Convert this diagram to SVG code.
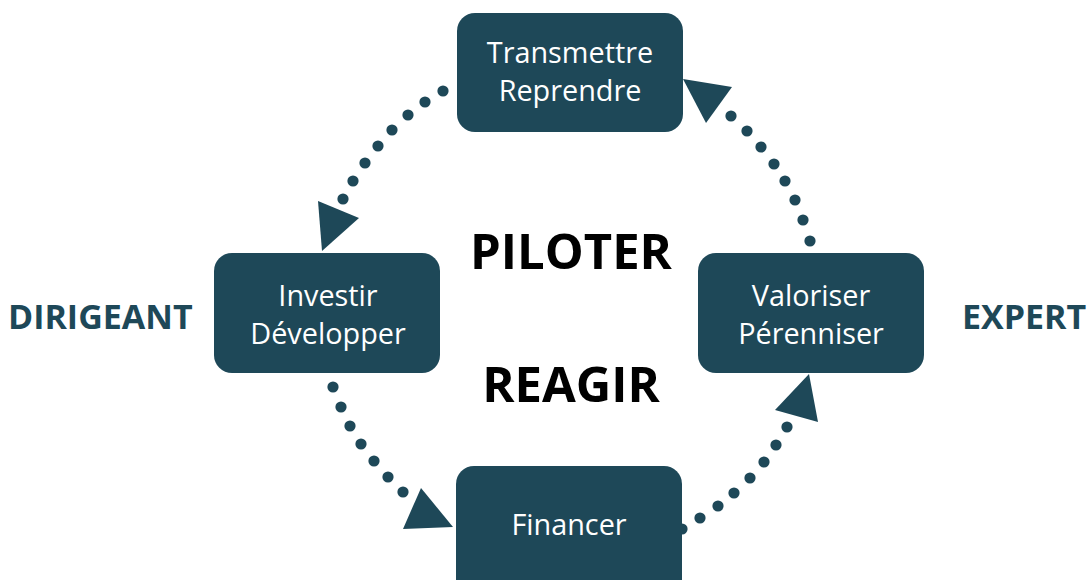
<svg xmlns="http://www.w3.org/2000/svg" width="1087" height="580" viewBox="0 0 1087 580">
<style>
.box{fill:#1e4858}
.nt{font-family:"Open Sans","Liberation Sans",sans-serif;font-size:28.8px;fill:#ffffff;text-anchor:middle}
.big{font-family:"Open Sans","Liberation Sans",sans-serif;font-weight:bold;font-size:49px;fill:#000000;text-anchor:middle}
.side{font-family:"Open Sans","Liberation Sans",sans-serif;font-weight:bold;font-size:34px;fill:#1e4858}
.dot{fill:#1e4858}
</style>
<rect width="1087" height="580" fill="#ffffff"/>
<g id="connectors" class="dot">
<g id="arc-top-left">
<circle cx="443" cy="91" r="5.6"/><circle cx="425" cy="102" r="5.6"/><circle cx="408" cy="115" r="5.6"/><circle cx="392" cy="130" r="5.6"/><circle cx="378" cy="146" r="5.6"/><circle cx="365" cy="163" r="5.6"/><circle cx="353" cy="181" r="5.6"/><circle cx="343" cy="199" r="5.6"/>
<polygon points="318,201 359,218 322,251"/>
</g>
<g id="arc-top-right">
<circle cx="731" cy="116" r="5.6"/><circle cx="747" cy="131" r="5.6"/><circle cx="761" cy="147" r="5.6"/><circle cx="774" cy="164" r="5.6"/><circle cx="785" cy="181" r="5.6"/><circle cx="795" cy="200" r="5.6"/><circle cx="803" cy="220" r="5.6"/><circle cx="810" cy="241" r="5.6"/>
<polygon points="683,79 732,87 706,123"/>
</g>
<g id="arc-bottom-left">
<circle cx="333" cy="387" r="5.6"/><circle cx="341" cy="407" r="5.6"/><circle cx="350" cy="426" r="5.6"/><circle cx="361" cy="444" r="5.6"/><circle cx="374" cy="461" r="5.6"/><circle cx="388" cy="477" r="5.6"/><circle cx="403" cy="492" r="5.6"/>
<polygon points="421,488 453,527 403,529"/>
</g>
<g id="arc-bottom-right">
<circle cx="682" cy="529" r="5.6"/><circle cx="700" cy="518" r="5.6"/><circle cx="718" cy="506" r="5.6"/><circle cx="734" cy="493" r="5.6"/><circle cx="750" cy="478" r="5.6"/><circle cx="764" cy="462" r="5.6"/><circle cx="776" cy="445" r="5.6"/><circle cx="787" cy="427" r="5.6"/>
<polygon points="809,374 818,422 775,410"/>
</g>
</g>
<g id="node-top">
<rect class="box" x="457" y="13" width="226" height="119" rx="18"/>
<text class="nt" x="570" y="63">Transmettre</text>
<text class="nt" x="570" y="101">Reprendre</text>
</g>
<g id="node-left">
<rect class="box" x="214" y="253" width="226" height="120" rx="18"/>
<text class="nt" x="328" y="306">Investir</text>
<text class="nt" x="328" y="344">Développer</text>
</g>
<g id="node-right">
<rect class="box" x="698" y="253" width="226" height="120" rx="18"/>
<text class="nt" x="811" y="306">Valoriser</text>
<text class="nt" x="811" y="344">Pérenniser</text>
</g>
<g id="node-bottom">
<rect class="box" x="456" y="466" width="226" height="140" rx="18"/>
<text class="nt" x="569" y="535">Financer</text>
</g>
<g id="labels">
<text class="big" x="571" y="269">PILOTER</text>
<text class="big" x="571" y="402">REAGIR</text>
<text class="side" x="8" y="329">DIRIGEANT</text>
<text class="side" x="962" y="329">EXPERT</text>
</g>
</svg>
